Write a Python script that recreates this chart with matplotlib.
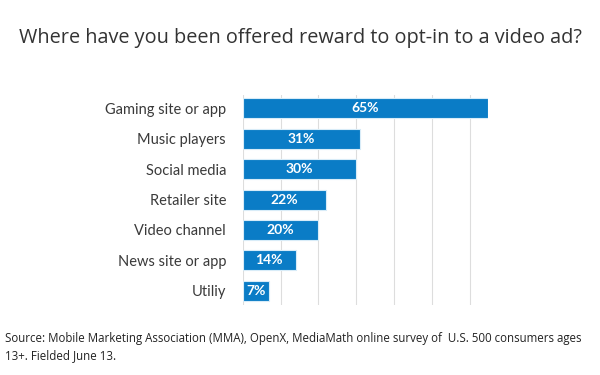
import matplotlib.pyplot as plt
import numpy as np

categories = ["Gaming site or app", "Music players", "Social media", "Retailer site",
              "Video channel", "News site or app", "Utiliy"]
values = [65, 31, 30, 22, 20, 14, 7]

title = "Where have you been offered reward to opt-in to a video ad?"
source = ("Source: Mobile Marketing Association (MMA), OpenX, MediaMath online survey of  U.S. 500 consumers ages\n"
          "13+. Fielded June 13.")

blue = "#0a7cc6"

fig = plt.figure(figsize=(6, 3.75), dpi=100)
ax = fig.add_axes([0.4045, 0.1867, 0.4095, 0.56])

y = np.arange(len(categories))
ax.barh(y, values, height=0.66, color=blue, edgecolor="#d8ecf8", linewidth=0.8, zorder=3)
for yi, v in zip(y, values):
    ax.text(v / 2, yi, f"{v}%", ha="center", va="center", color="white",
            fontsize=10, fontweight="bold", family="Lato", zorder=4)

ax.set_xlim(0, 65)
ax.set_ylim(6.47, -0.44)
ax.set_xticks(np.arange(0, 61, 10))
ax.grid(axis="x", color="#dddddd", linewidth=0.8, zorder=0)
ax.set_yticks(y)
ax.set_yticklabels(categories, family="Lato", fontsize=10.5, color="#3a3a3a")
ax.tick_params(axis="y", length=0, pad=12)
ax.tick_params(axis="x", length=0, labelbottom=False)
for s in ax.spines.values():
    s.set_visible(False)

fig.text(0.5, 0.9, title, ha="center", va="center", fontsize=14.3,
         family="Open Sans", color="#333333")
fig.text(0.008, 0.075, source, ha="left", va="center", fontsize=8.3,
         family="Open Sans", color="#222222", linespacing=1.45)

fig.savefig("out.png", dpi=100)
